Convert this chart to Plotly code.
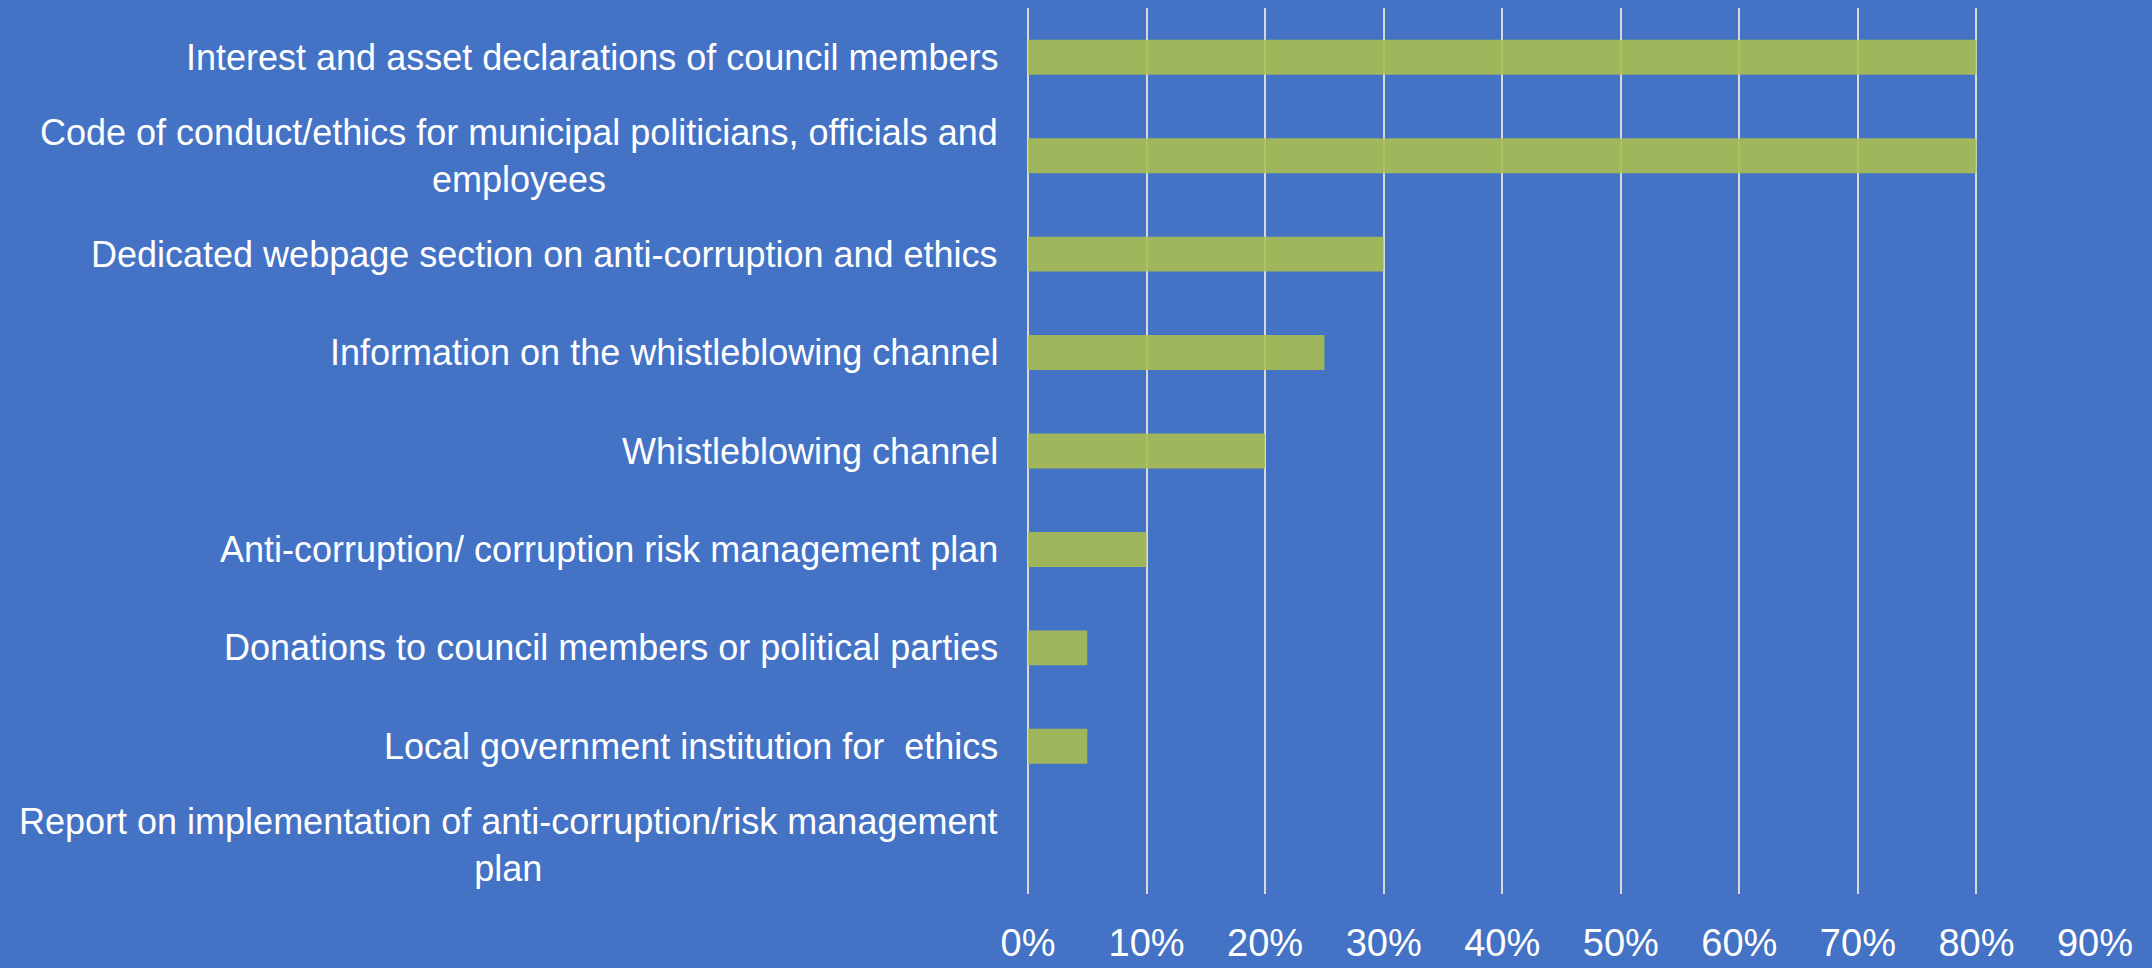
import plotly.graph_objects as go

categories = [
    "Interest and asset declarations of council members",
    "Code of conduct/ethics for municipal politicians, officials and<br>employees",
    "Dedicated webpage section on anti-corruption and ethics",
    "Information on the whistleblowing channel",
    "Whistleblowing channel",
    "Anti-corruption/ corruption risk management plan",
    "Donations to council members or political parties",
    "Local government institution for  ethics",
    "Report on implementation of anti-corruption/risk management<br>plan",
]
values = [0.80, 0.80, 0.30, 0.25, 0.20, 0.10, 0.05, 0.05, 0.0]
tick_vals = [0, 0.1, 0.2, 0.3, 0.4, 0.5, 0.6, 0.7, 0.8, 0.9]
tick_text = ["0%", "10%", "20%", "30%", "40%", "50%", "60%", "70%", "80%", "90%"]

BG = "#4472C4"
FONT = "Liberation Sans"

fig = go.Figure()
fig.add_trace(go.Bar(
    y=categories,
    x=values,
    orientation="h",
    marker=dict(color="rgba(170,190,82,0.9)", line=dict(width=0)),
    hoverinfo="x+y",
))

annotations = []
for cat in categories:
    annotations.append(dict(
        x=0, y=cat, xref="x", yref="y",
        text=cat, showarrow=False,
        xanchor="right", yanchor="middle", align="center",
        xshift=-28,
        font=dict(family=FONT, size=36, color="white"),
    ))

fig.update_layout(
    width=2152, height=968,
    paper_bgcolor=BG, plot_bgcolor=BG,
    margin=dict(l=1028, r=57, t=8, b=74, autoexpand=False),
    bargap=0.645,
    showlegend=False,
    annotations=annotations,
    xaxis=dict(
        range=[0, 0.9],
        tickvals=tick_vals, ticktext=tick_text,
        showgrid=True, gridcolor="#D9D9D9", gridwidth=2,
        zeroline=True, zerolinecolor="#D9D9D9", zerolinewidth=2,
        showline=False, automargin=False,
        ticks="outside", ticklen=15, tickcolor="rgba(0,0,0,0)",
        tickfont=dict(family=FONT, size=38, color="white"),
        fixedrange=True,
    ),
    yaxis=dict(
        categoryorder="array", categoryarray=categories,
        autorange="reversed", automargin=False,
        showticklabels=False, showgrid=False, zeroline=False, showline=False,
        fixedrange=True,
    ),
)

fig.write_html(
    "out.html",
    config={"displayModeBar": False},
    post_script="document.body.style.margin='0';document.body.style.padding='0';"
                "document.body.style.overflow='hidden';",
)
